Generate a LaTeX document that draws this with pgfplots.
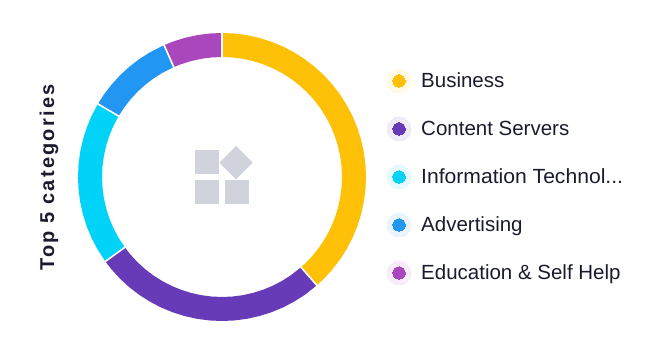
\documentclass[border=0pt]{standalone}
\usepackage{pgfplots}
\pgfplotsset{compat=1.18}
\usepgfplotslibrary{polar}
\usepackage{fontspec}
\setmainfont{Liberation Sans}
\newfontfamily\titlefont[LetterSpace=11]{Liberation Sans}
\definecolor{cA}{HTML}{FFC107}
\definecolor{cB}{HTML}{673AB7}
\definecolor{cC}{HTML}{00D2F8}
\definecolor{cD}{HTML}{2196F3}
\definecolor{cE}{HTML}{AB47BC}
\definecolor{icon}{HTML}{D0D3DC}
\definecolor{ink}{HTML}{1A1B2E}
\begin{document}
\begin{tikzpicture}[x=1pt,y=1pt]
\begin{axis}[at={(0pt,0pt)},anchor=south west,width=669pt,height=355pt,scale only axis,
  xmin=0,xmax=669,ymin=0,ymax=355,y dir=reverse,hide axis,clip=false]
\addplot[only marks,mark=*,mark size=12pt,color=cA!10,mark options={fill=cA!10,draw=cA!10,line width=0pt}] coordinates {(399,81)};
\addplot[only marks,mark=*,mark size=12pt,color=cB!10,mark options={fill=cB!10,draw=cB!10,line width=0pt}] coordinates {(399,129)};
\addplot[only marks,mark=*,mark size=12pt,color=cC!10,mark options={fill=cC!10,draw=cC!10,line width=0pt}] coordinates {(399,177)};
\addplot[only marks,mark=*,mark size=12pt,color=cD!10,mark options={fill=cD!10,draw=cD!10,line width=0pt}] coordinates {(399,225)};
\addplot[only marks,mark=*,mark size=12pt,color=cE!10,mark options={fill=cE!10,draw=cE!10,line width=0pt}] coordinates {(399,273)};
\addplot[only marks,mark=*,mark size=6.2pt,color=cA,mark options={fill=cA,draw=cA,line width=0pt}] coordinates {(399,81)};
\addplot[only marks,mark=*,mark size=6.2pt,color=cB,mark options={fill=cB,draw=cB,line width=0pt}] coordinates {(399,129)};
\addplot[only marks,mark=*,mark size=6.2pt,color=cC,mark options={fill=cC,draw=cC,line width=0pt}] coordinates {(399,177)};
\addplot[only marks,mark=*,mark size=6.2pt,color=cD,mark options={fill=cD,draw=cD,line width=0pt}] coordinates {(399,225)};
\addplot[only marks,mark=*,mark size=6.2pt,color=cE,mark options={fill=cE,draw=cE,line width=0pt}] coordinates {(399,273)};
\addplot[fill=icon,draw=none] coordinates {(195,150)(219,150)(219,174)(195,174)} --cycle;
\addplot[fill=icon,draw=none] coordinates {(195,180)(219,180)(219,204)(195,204)} --cycle;
\addplot[fill=icon,draw=none] coordinates {(225,180)(249,180)(249,204)(225,204)} --cycle;
\addplot[fill=icon,draw=none] coordinates {(236,146)(252.7,162.7)(236,179.4)(219.3,162.7)} --cycle;
\node[anchor=base west,text=ink,font=\fontsize{20.5}{24}\selectfont,inner sep=0] at (axis cs:421,88) {Business};
\node[anchor=base west,text=ink,font=\fontsize{20.5}{24}\selectfont,inner sep=0] at (axis cs:421,136) {Content Servers};
\node[anchor=base west,text=ink,font=\fontsize{20.5}{24}\selectfont,inner sep=0,xscale=1.03] at (axis cs:421,184) {Information Technol...};
\node[anchor=base west,text=ink,font=\fontsize{20.5}{24}\selectfont,inner sep=0] at (axis cs:421,232) {Advertising};
\node[anchor=base west,text=ink,font=\fontsize{20.5}{24}\selectfont,inner sep=0] at (axis cs:421,280) {Education \& Self Help};
\node[rotate=90,anchor=base,text=ink,font=\fontsize{20}{24}\selectfont\bfseries\titlefont,inner sep=0] at (axis cs:54,177.5) {Top 5 categories};
\end{axis}
\begin{polaraxis}[at={(78pt,34pt)},anchor=south west,width=288pt,height=288pt,scale only axis,
  xmin=0,xmax=360,ymin=0,ymax=144,hide axis,clip=false]
\addplot[cA,line width=24pt,no marks] coordinates {(90,132)(85,132)(80,132)(75,132)(70,132)(65,132)(60,132)(55,132)(50,132)(45,132)(40,132)(35,132)(30,132)(25,132)(20,132)(15,132)(10,132)(5,132)(0,132)(-5,132)(-10,132)(-15,132)(-20,132)(-25,132)(-30,132)(-35,132)(-40,132)(-45,132)(-48.8,132)};
\addplot[cB,line width=24pt,no marks] coordinates {(-48.8,132)(-55,132)(-60,132)(-65,132)(-70,132)(-75,132)(-80,132)(-85,132)(-90,132)(-95,132)(-100,132)(-105,132)(-110,132)(-115,132)(-120,132)(-125,132)(-130,132)(-135,132)(-140,132)(-144.1,132)};
\addplot[cC,line width=24pt,no marks] coordinates {(-144.1,132)(-150,132)(-155,132)(-160,132)(-165,132)(-170,132)(-175,132)(-180,132)(-185,132)(-190,132)(-195,132)(-200,132)(-205,132)(-210.5,132)};
\addplot[cD,line width=24pt,no marks] coordinates {(-210.5,132)(-215,132)(-220,132)(-225,132)(-230,132)(-235,132)(-240,132)(-246.3,132)};
\addplot[cE,line width=24pt,no marks] coordinates {(-246.3,132)(-250,132)(-255,132)(-260,132)(-265,132)(-270,132)};
\addplot[white,line width=1.6pt,no marks] coordinates {(90,119)(90,145)};
\addplot[white,line width=1.6pt,no marks] coordinates {(-48.8,119)(-48.8,145)};
\addplot[white,line width=1.6pt,no marks] coordinates {(-144.1,119)(-144.1,145)};
\addplot[white,line width=1.6pt,no marks] coordinates {(-210.5,119)(-210.5,145)};
\addplot[white,line width=1.6pt,no marks] coordinates {(-246.3,119)(-246.3,145)};
\end{polaraxis}
\path[use as bounding box] (0pt,0pt) rectangle (669pt,355pt);
\end{tikzpicture}
\end{document}
